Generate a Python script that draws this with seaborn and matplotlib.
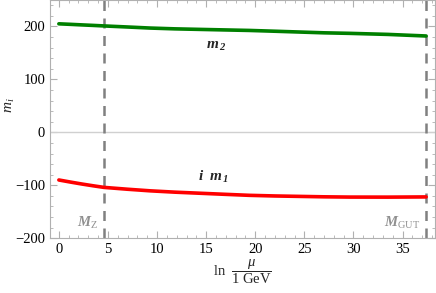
import numpy as np
import pandas as pd
import seaborn as sns
import matplotlib.pyplot as plt
from matplotlib.ticker import MultipleLocator

# values (x = ln(mu / 1 GeV))
x_vals = [0.0, 1.2, 2.3, 3.5, 4.6, 7.0, 9.3, 11.8, 14.3, 16.8, 19.4, 22.0, 24.5, 27.0,
          29.6, 33.5, 37.4]
m2_vals = [205, 204, 203, 202, 201, 199, 197, 195.5, 194.5, 193.5, 192.5, 191, 189.5, 188,
           187, 185, 182]
m1_vals = [-90, -94, -97.5, -101, -104, -107.5, -110.5, -113, -115, -117, -119, -120.2,
           -121, -121.8, -122.3, -122.4, -122]
mz_pos = 4.55
mgut_pos = 37.4

sns.set_style('ticks')
plt.rcParams['font.family'] = ['Liberation Serif', 'DejaVu Serif']
plt.rcParams['mathtext.fontset'] = 'custom'
plt.rcParams['mathtext.rm'] = 'Liberation Serif'
plt.rcParams['mathtext.it'] = 'Liberation Serif:italic'
plt.rcParams['mathtext.bf'] = 'Liberation Serif:italic:bold'

df = pd.DataFrame({'x': x_vals, 'm2': m2_vals, 'm1': m1_vals})

fig = plt.figure(figsize=(4.36, 2.93), dpi=100)
ax = fig.add_axes([0.1147, 0.187, 0.883, 0.813])

ax.axhline(0, color='#d0d0d0', lw=1, zorder=1)
sns.lineplot(data=df, x='x', y='m2', color='#008000', lw=2.6, ax=ax, zorder=3)
sns.lineplot(data=df, x='x', y='m1', color='#ff0000', lw=2.6, ax=ax, zorder=3)
for xv in (mz_pos, mgut_pos):
    ax.axvline(xv, color='#808080', lw=1.8, dashes=(4, 3), zorder=2)

ax.set_xlim(-0.9, 38.3)
ax.set_ylim(-200, 250)
ax.xaxis.set_major_locator(MultipleLocator(5))
ax.xaxis.set_minor_locator(MultipleLocator(1))
ax.yaxis.set_major_locator(MultipleLocator(100))
ax.yaxis.set_minor_locator(MultipleLocator(20))
ax.tick_params(which='both', direction='in', top=True, right=True,
               color='#b0b0b0', labelsize=10.5, labelcolor='black')
ax.tick_params(which='major', length=5, width=0.8)
ax.tick_params(which='minor', length=2.5, width=0.6)
for s in ax.spines.values():
    s.set_color('#b0b0b0')
    s.set_linewidth(0.8)

ax.set_xlabel(r'$\mathrm{ln}\ \ \dfrac{\mu}{1\ \mathrm{GeV}}$', fontsize=10.5, labelpad=1)
ax.set_ylabel(r'$m_i$', fontsize=11)
ax.yaxis.set_label_coords(-0.085, 0.56)

ax.text(16.0, 163, r'$\mathbf{m}_{\,\mathbf{2}}$', fontsize=11, ha='center', va='center')
ax.text(15.8, -84, r'$\mathbf{i\ \ m}_{\,\mathbf{1}}$', fontsize=11, ha='center', va='center')
ax.text(mz_pos - 0.6, -172, r'$\mathbf{M}_\mathrm{Z}$', color='#909090', fontsize=10.5,
        ha='right', va='center')
ax.text(mgut_pos - 0.6, -172, r'$\mathbf{M}_\mathrm{GUT}$', color='#909090', fontsize=10.5,
        ha='right', va='center')

fig.savefig('out.png', dpi=100)
